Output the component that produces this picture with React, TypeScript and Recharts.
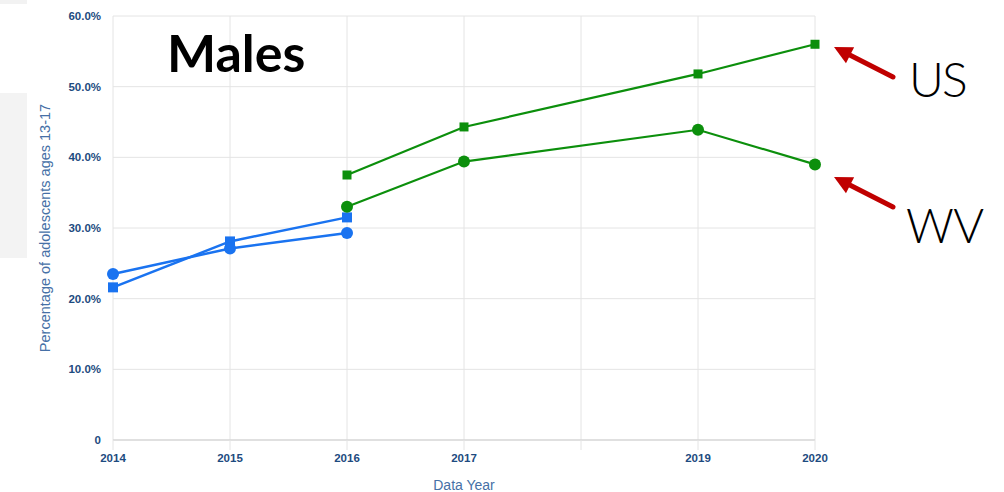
import React from "react";
import {
  LineChart,
  Line,
  XAxis,
  YAxis,
  CartesianGrid,
  Label,
} from "recharts";

const years = [2014, 2015, 2016, 2017, 2019, 2020];
const usEarly = [21.6, 28.1, 31.5, null, null, null];
const wvEarly = [23.5, 27.1, 29.3, null, null, null];
const usLate = [null, null, 37.5, 44.3, 51.8, 56.0];
const wvLate = [null, null, 33.0, 39.4, 43.9, 39.0];

const xTicks = [2014, 2015, 2016, 2017, 2018, 2019, 2020];
const yTicks = [0, 10, 20, 30, 40, 50, 60];

const BLUE = "#1a73f0";
const GREEN = "#0c8f0c";
const TICK_BLUE = "#1d4b80";
const LABEL_BLUE = "#4670a6";
const ARROW_RED = "#c00000";

const data = years.map((y, i) => ({
  year: y,
  usEarly: usEarly[i],
  wvEarly: wvEarly[i],
  usLate: usLate[i],
  wvLate: wvLate[i],
}));

// square marker, Recharts only gives us circles out of the box
const squareDot = (size: number, color: string) => (props: any) => {
  const { cx, cy, value, index } = props;
  if (value == null || cx == null || cy == null) return <g key={index} />;
  return (
    <rect
      key={index}
      x={cx - size / 2}
      y={cy - size / 2}
      width={size}
      height={size}
      fill={color}
    />
  );
};

const Arrow = ({ x1, y1, x2, y2 }: { x1: number; y1: number; x2: number; y2: number }) => {
  // tail (x1,y1) -> tip (x2,y2)
  const dx = x2 - x1;
  const dy = y2 - y1;
  const len = Math.hypot(dx, dy);
  const ux = dx / len;
  const uy = dy / len;
  const head = 18;
  const bx = x2 - ux * head;
  const by = y2 - uy * head;
  const w = 9;
  return (
    <g>
      <line x1={x1} y1={y1} x2={bx + ux * 2} y2={by + uy * 2} stroke={ARROW_RED} strokeWidth={5} strokeLinecap="round" />
      <polygon
        points={`${x2},${y2} ${bx - uy * w},${by + ux * w} ${bx + uy * w},${by - ux * w}`}
        fill={ARROW_RED}
      />
    </g>
  );
};

export default function App() {
  return (
    <div
      style={{
        position: "absolute",
        left: 0,
        top: 0,
        width: 1004,
        height: 492,
        background: "#fff",
        fontFamily: "Arial, 'Liberation Sans', sans-serif",
        overflow: "hidden",
      }}
    >
      <div style={{ position: "absolute", left: 0, top: 0, width: 27, height: 4, background: "#f2f2f2" }} />
      <div style={{ position: "absolute", left: 0, top: 93, width: 27, height: 165, background: "#f3f3f3" }} />

      <LineChart
        width={1004}
        height={492}
        data={data}
        margin={{ top: 16, right: 189, left: 0, bottom: 0 }}
        style={{ position: "absolute", left: 0, top: 0 }}
      >
        <CartesianGrid stroke="#e4e4e4" strokeWidth={1} />
        <XAxis
          dataKey="year"
          type="number"
          domain={[2014, 2020]}
          ticks={xTicks}
          interval={0}
          height={52}
          tickFormatter={(v) => (v === 2018 ? "" : String(v))}
          tick={{ fontSize: 11.5, fontWeight: 700, fill: TICK_BLUE }}
          tickSize={10}
          tickMargin={4}
          tickLine={{ stroke: "#e4e4e4" }}
          axisLine={{ stroke: "#cfcfcf" }}
        >
          <Label value="Data Year" position="insideBottom" offset={2} fill={LABEL_BLUE} fontSize={14} />
        </XAxis>
        <YAxis
          type="number"
          domain={[0, 60]}
          ticks={yTicks}
          width={113}
          tickFormatter={(v) => (v === 0 ? "0" : `${v.toFixed(1)}%`)}
          tick={{ fontSize: 11.5, fontWeight: 700, fill: TICK_BLUE }}
          tickLine={false}
          tickSize={6}
          tickMargin={6}
          axisLine={false}
        >
          <Label
            content={({ viewBox }: any) => {
              const cy = viewBox.y + viewBox.height / 2;
              return (
                <text
                  x={45}
                  y={cy}
                  transform={`rotate(-90 45 ${cy})`}
                  textAnchor="middle"
                  dominantBaseline="central"
                  fill={LABEL_BLUE}
                  fontSize={14.5}
                >
                  Percentage of adolescents ages 13-17
                </text>
              );
            }}
          />
        </YAxis>

        <Line
          dataKey="usEarly"
          stroke={BLUE}
          strokeWidth={2.5}
          dot={squareDot(10, BLUE)}
          activeDot={false}
          connectNulls={false}
          isAnimationActive={false}
        />
        <Line
          dataKey="wvEarly"
          stroke={BLUE}
          strokeWidth={2.5}
          dot={{ r: 6, fill: BLUE, stroke: "none" }}
          activeDot={false}
          connectNulls={false}
          isAnimationActive={false}
        />
        <Line
          dataKey="usLate"
          stroke={GREEN}
          strokeWidth={2.2}
          dot={squareDot(9, GREEN)}
          activeDot={false}
          connectNulls={false}
          isAnimationActive={false}
        />
        <Line
          dataKey="wvLate"
          stroke={GREEN}
          strokeWidth={2.2}
          dot={{ r: 6, fill: GREEN, stroke: "none" }}
          activeDot={false}
          connectNulls={false}
          isAnimationActive={false}
        />
      </LineChart>

      <svg width={1004} height={492} style={{ position: "absolute", left: 0, top: 0, pointerEvents: "none" }}>
        <text x={167} y={72} fontFamily="Lato, 'DejaVu Sans', sans-serif" fontWeight={700} fontSize={52} fill="#000">
          Males
        </text>
        <Arrow x1={893} y1={77} x2={834} y2={47} />
        <Arrow x1={893} y1={207} x2={834} y2={177} />
        <text x={909} y={97} fontFamily="Lato, 'DejaVu Sans', sans-serif" fontWeight={300} fontSize={48} letterSpacing={-2} fill="#000">
          US
        </text>
        <text x={906} y={243} fontFamily="Lato, 'DejaVu Sans', sans-serif" fontWeight={300} fontSize={47} letterSpacing={-0.5} fill="#000">
          WV
        </text>
      </svg>
    </div>
  );
}
